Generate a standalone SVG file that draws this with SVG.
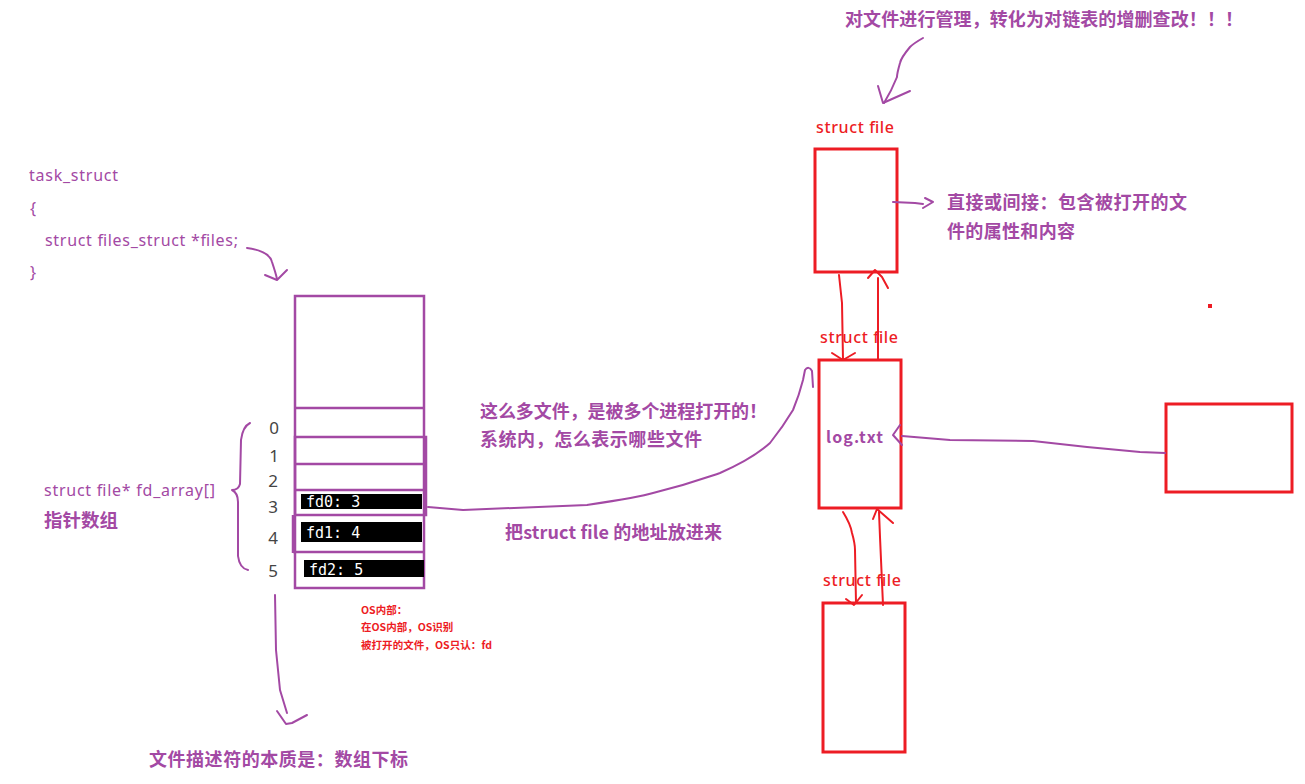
<svg xmlns="http://www.w3.org/2000/svg" width="1305" height="784" viewBox="0 0 1305 784">
<style>
.p{fill:#A349A4;font-family:"Noto Sans","Noto Sans CJK SC",sans-serif;font-size:16px}
.pc{fill:#A349A4;font-family:"Noto Sans CJK SC","Noto Sans",sans-serif;font-size:18px;font-weight:bold}
.r{fill:#ED1C24;font-family:"Noto Sans","Noto Sans CJK SC",sans-serif;font-size:16px;font-weight:500}
.rs{fill:#ED1C24;font-family:"Noto Sans CJK SC",sans-serif;font-size:10.5px;font-weight:bold}
.idx{fill:#444;font-family:"Noto Sans",sans-serif;font-size:17px;text-anchor:middle}
.fd{fill:#fff;font-family:"DejaVu Sans Mono",monospace;font-size:15px}
.pl{fill:none;stroke:#A349A4;stroke-width:2;stroke-linecap:round;stroke-linejoin:round}
.rl{fill:none;stroke:#ED1C24;stroke-width:2;stroke-linecap:round;stroke-linejoin:round}
.rb{fill:#fff;stroke:#ED1C24;stroke-width:3}
.pb{fill:none;stroke:#A349A4;stroke-width:2.5}
</style>
<rect width="1305" height="784" fill="#fff"/>

<g id="task_struct_text">
<text class="p" x="29" y="181" textLength="89">task_struct</text>
<text class="p" x="30" y="214">{</text>
<text class="p" x="45" y="246" textLength="193">struct files_struct *files;</text>
<text class="p" x="30" y="278">}</text>
</g>

<g id="fd_array_label">
<text class="p" x="44" y="496" textLength="171">struct file* fd_array[]</text>
<text class="pc" x="44" y="527" style="font-size:18.5px">指针数组</text>
</g>

<g id="files_struct">
<rect class="pb" x="295" y="296" width="129" height="292"/>
<line class="pb" x1="295" y1="408" x2="424" y2="408"/>
<rect class="pb" x="295" y="437" width="131" height="78"/>
<line class="pb" x1="295" y1="464" x2="424" y2="464"/>
<line class="pb" x1="295" y1="490" x2="424" y2="490"/>
<line class="pb" x1="293" y1="552" x2="424" y2="552"/>
<line class="pb" x1="293" y1="515" x2="293" y2="553"/>
<rect x="301" y="494" width="121" height="15" fill="#000"/>
<rect x="301" y="522" width="121" height="20" fill="#000"/>
<rect x="304" y="560" width="120" height="17" fill="#000"/>
<text class="fd" x="306" y="507">fd0: 3</text>
<text class="fd" x="306" y="538">fd1: 4</text>
<text class="fd" x="309" y="575">fd2: 5</text>
</g>

<g id="indices">
<text class="idx" x="274" y="434">0</text>
<text class="idx" x="274" y="462">1</text>
<text class="idx" x="273" y="487">2</text>
<text class="idx" x="273" y="513">3</text>
<text class="idx" x="273" y="544">4</text>
<text class="idx" x="273" y="577">5</text>
</g>

<g id="os_note">
<text class="rs" x="361" y="614">OS内部：</text>
<text class="rs" x="361" y="631">在OS内部，OS识别</text>
<text class="rs" x="361" y="649" textLength="131">被打开的文件，OS只认：fd</text>
</g>

<g id="bottom_note">
<text class="pc" x="149" y="766" textLength="259">文件描述符的本质是：数组下标</text>
</g>

<g id="middle_note">
<text class="pc" x="480" y="418" textLength="287">这么多文件，是被多个进程打开的！</text>
<text class="pc" x="480" y="446" textLength="222">系统内，怎么表示哪些文件</text>
<text class="pc" x="505" y="539" textLength="217">把struct file 的地址放进来</text>
</g>

<g id="top_note">
<text class="pc" x="845" y="26" textLength="398">对文件进行管理，转化为对链表的增删查改！！！</text>
</g>

<g id="attr_note">
<text class="pc" x="947" y="209" textLength="240">直接或间接：包含被打开的文</text>
<text class="pc" x="947" y="238" textLength="128">件的属性和内容</text>
</g>

<g id="file_top">
<text class="r" x="816" y="133" textLength="78">struct file</text>
<rect class="rb" x="815" y="149" width="82" height="123"/>
</g>

<g id="file_mid">
<text class="r" x="820" y="343" textLength="78">struct file</text>
<rect class="rb" x="819" y="360" width="82" height="148"/>
<text class="pc" x="826" y="443" style="font-size:16px" textLength="57">log.txt</text>
</g>

<g id="file_bottom">
<text class="r" x="823" y="586" textLength="78">struct file</text>
<rect class="rb" x="823" y="603" width="82" height="149"/>
</g>

<g id="other_box">
<rect class="rb" x="1166" y="404" width="126" height="88"/>
</g>

<g id="dot">
<rect x="1208" y="304" width="4" height="4" fill="#ED1C24"/>
</g>

<g id="connectors">
<path class="pl" d="M247 248 C262 250 270 254 272 262 C274 268 276 274 277 279"/>
<path class="pl" d="M265 275 L277 280 L287 270"/>
<path class="pl" d="M250 423 C244 426 242 432 241 440 L240 484 C239 488 236 490 232 490 C236 492 238 495 238 502 L238 556 C239 564 243 569 248 570"/>
<path class="pl" d="M275 595 L276 650 L280 690 L287 713"/>
<path class="pl" d="M277 711 L286 724 L292 723 L307 715"/>
<path class="pl" d="M428 507 L463 510 L587 505 C620 500 640 497 653 493 C690 484 705 478 720 473 C745 462 760 452 770 443 C782 428 790 415 793 410 C798 398 801 388 803 380 L805 370 C807 367 810 367 812 371 L813 387"/>
<path class="pl" d="M923 38 C916 42 912 45 910 47 C905 53 901 58 900 63 C898 70 897 74 897 77 C893 87 889 95 884 103"/>
<path class="pl" d="M878 86 L883 103 L910 91"/>
<path class="pl" d="M893 202 L915 203 L923 204"/>
<path class="pl" d="M925 198 L933 202 L923 208"/>
<path class="pl" d="M1165 453 L1140 452 L1087 447 L1033 441 L950 440 L902 436"/>
<path class="pl" d="M900 425 L893 435 L902 445"/>
<path class="rl" d="M839 275 L842 303 L843 360"/>
<path class="rl" d="M832 353 L843 360 L855 353"/>
<path class="rl" d="M878 360 L878 278"/>
<path class="rl" d="M868 278 L875 270 L882 277 L888 288"/>
<path class="rl" d="M843 512 C848 520 851 527 852 533 C854 540 855 545 855 550 L856 603"/>
<path class="rl" d="M846 599 L854 605 L862 595"/>
<path class="rl" d="M883 605 L880 537 L879 512"/>
<path class="rl" d="M873 519 L877 509 L893 523"/>
</g>
</svg>
